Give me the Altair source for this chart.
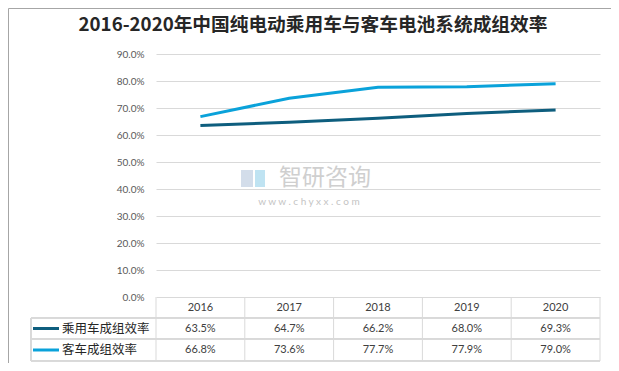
import altair as alt
import pandas as pd

# ---- data ----
years = [2016, 2017, 2018, 2019, 2020]
series_names = ["乘用车成组效率", "客车成组效率"]
passenger_eff = [63.5, 64.7, 66.2, 68.0, 69.3]
bus_eff = [66.8, 73.6, 77.7, 77.9, 79.0]
y_ticks = [0.0, 0.1, 0.2, 0.3, 0.4, 0.5, 0.6, 0.7, 0.8, 0.9]
title_text = "2016-2020年中国纯电动乘用车与客车电池系统成组效率"

colors = ["#0E5E7E", "#0AA2DA"]
GRID = "#D9D9D9"
CJK = "Noto Sans CJK SC"
NUM = "Lato"

rows = []
for name, vals in zip(series_names, [passenger_eff, bus_eff]):
    for yr, v in zip(years, vals):
        rows.append({"year": yr, "series": name, "value": v / 100.0,
                     "label": f"{v:.1f}%"})
df = pd.DataFrame(rows)
df_years = pd.DataFrame({"year": years, "label": [str(y) for y in years]})
df_bounds = pd.DataFrame({"b": [y - 0.5 for y in years] + [years[-1] + 0.5]})

W, H = 444, 243
xscale = alt.Scale(domain=[years[0] - 0.5, years[-1] + 0.5], nice=False, zero=False)
yscale = alt.Scale(domain=[0, 0.9], nice=False)

base = alt.Chart(df)

lines = base.mark_line(strokeWidth=3).encode(
    x=alt.X("year:Q", scale=xscale, axis=None),
    y=alt.Y("value:Q", scale=yscale, title=None,
            axis=alt.Axis(values=y_ticks, format=".1%", grid=True, gridColor=GRID,
                          domain=False, ticks=False, labelColor="#595959",
                          labelFont=NUM, labelFontSize=10, labelPadding=12)),
    color=alt.Color("series:N", scale=alt.Scale(domain=series_names, range=colors),
                    legend=None),
)

# table geometry (pixel offsets relative to plot area)
row_top = H            # 0% line / table top
hdr_mid = row_top + 10.5
row_mids = [row_top + 21 + 10.5, row_top + 42 + 11]
row_lines = [row_top + 21, row_top + 42, row_top + 64]
left_x = -125

layers = [lines]

# vertical table lines at year boundaries
layers.append(alt.Chart(df_bounds).mark_rule(color=GRID, strokeWidth=1).encode(
    x=alt.X("b:Q", scale=xscale), y=alt.value(row_top), y2=alt.value(row_lines[-1])))
# left legend column border
layers.append(alt.Chart(df_bounds).mark_rule(color=GRID, strokeWidth=1).encode(
    x=alt.value(left_x), y=alt.value(row_lines[0]), y2=alt.value(row_lines[-1])))
# horizontal table lines
for yy in row_lines:
    layers.append(alt.Chart(df_bounds).mark_rule(color=GRID, strokeWidth=1).encode(
        x=alt.value(left_x), x2=alt.value(W), y=alt.value(yy)))

# header years
layers.append(alt.Chart(df_years).mark_text(font=NUM, fontSize=11, color="#404040",
                                            baseline="middle").encode(
    x=alt.X("year:Q", scale=xscale), y=alt.value(hdr_mid), text="label:N"))

# values + legend entries
for i, name in enumerate(series_names):
    sub = df[df.series == name]
    layers.append(alt.Chart(sub).mark_text(font=NUM, fontSize=11, color="#404040",
                                           baseline="middle").encode(
        x=alt.X("year:Q", scale=xscale), y=alt.value(row_mids[i]), text="label:N"))
    leg = pd.DataFrame({"series": [name]})
    layers.append(alt.Chart(leg).mark_rule(strokeWidth=3, color=colors[i]).encode(
        x=alt.value(left_x + 2), x2=alt.value(left_x + 28), y=alt.value(row_mids[i])))
    layers.append(alt.Chart(leg).mark_text(font=CJK, fontSize=12.5, color="#262626",
                                           align="left", baseline="middle").encode(
        x=alt.value(left_x + 31), y=alt.value(row_mids[i]), text="series:N"))

# title
layers.append(alt.Chart(pd.DataFrame({"t": [title_text]})).mark_text(
    font=CJK, fontSize=18.7, fontWeight="bold", color="#262626",
    align="center", baseline="middle").encode(
    x=alt.value(157), y=alt.value(-29), text="t:N"))

# watermark (logo text)
layers.append(alt.Chart(pd.DataFrame({"t": [0]})).mark_rect(
    color="#D3DDEA").encode(
    x=alt.value(85), x2=alt.value(97), y=alt.value(116), y2=alt.value(133)))
layers.append(alt.Chart(pd.DataFrame({"t": [0]})).mark_rect(
    color="#BFE3F2").encode(
    x=alt.value(99), x2=alt.value(109), y=alt.value(116), y2=alt.value(133)))
layers.append(alt.Chart(pd.DataFrame({"t": ["智研咨询"]})).mark_text(
    font=CJK, fontSize=23, color="#CFCFCF", align="center", baseline="middle").encode(
    x=alt.value(169), y=alt.value(124), text="t:N"))
layers.append(alt.Chart(pd.DataFrame({"t": ["w  w  w  .  c  h  y  x  x  .  c  o  m"]})).mark_text(
    font=NUM, fontSize=10, color="#C4C4C4", align="center", baseline="middle").encode(
    x=alt.value(153), y=alt.value(148), text="t:N"))

# outer frame
layers.append(alt.Chart(pd.DataFrame({"t": [0]})).mark_rect(
    filled=False, stroke="#A6A6A6", strokeWidth=1).encode(
    x=alt.value(-147.5), x2=alt.value(457.5), y=alt.value(-45.5), y2=alt.value(313.5)))

chart = alt.layer(*layers).properties(
    width=W, height=H,
    autosize=alt.AutoSizeParams(type="none"),
    padding={"left": 148, "top": 46, "right": 11, "bottom": 66},
    background="white",
).configure_view(stroke=None)

chart.save("out.html", embed_options={"renderer": "svg", "actions": False})
